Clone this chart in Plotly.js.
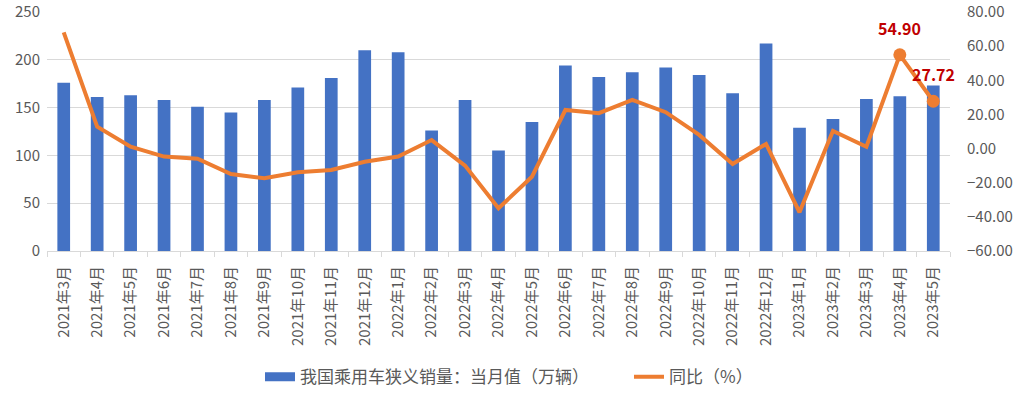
<!DOCTYPE html>
<html>
<head>
<meta charset="utf-8">
<script src="https://cdn.plot.ly/plotly-3.0.1.min.js"></script>
<style>html,body{margin:0;padding:0;background:#fff;}#chart{width:1018px;height:393px;}</style>
</head>
<body>
<div id="chart"></div>
<script>
const months = ["2021年3月","2021年4月","2021年5月","2021年6月","2021年7月","2021年8月","2021年9月","2021年10月","2021年11月","2021年12月",
"2022年1月","2022年2月","2022年3月","2022年4月","2022年5月","2022年6月","2022年7月","2022年8月","2022年9月","2022年10月","2022年11月","2022年12月",
"2023年1月","2023年2月","2023年3月","2023年4月","2023年5月"];
const sales = [176,161,163,158,151,145,158,171,181,210,208,126,158,105,135,194,182,187,192,184,165,217,129,138,159,162,173];
const yoy = [68.1,12.8,1.1,-4.7,-5.9,-14.9,-17.4,-13.9,-12.5,-7.7,-4.7,5.0,-10.0,-35.0,-16.5,22.6,20.7,28.5,21.3,8.0,-9.0,2.7,-37.3,10.3,1.1,54.90,27.72];
const labelled = ["2023年4月","2023年5月"];
const labelledVals = [54.90, 27.72];
const labelledText = ["54.90","27.72"];
const barName = "我国乘用车狭义销量：当月值（万辆）";
const lineName = "同比（%）";

const font = "'Noto Sans CJK SC', 'Noto Sans', sans-serif";
const grey = "#595959";

const traces = [
  {type:"bar", x:months, y:sales, name:barName, showlegend:false,
   marker:{color:"#4472C4"}, yaxis:"y"},
  {type:"scatter", mode:"lines", x:[months[0]], y:[null], name:barName,
   line:{color:"#4472C4", width:9}, yaxis:"y", hoverinfo:"skip"},
  {type:"scatter", mode:"lines", x:months, y:yoy, name:lineName,
   line:{color:"#ED7D31", width:4}, yaxis:"y2"},
  {type:"scatter", mode:"markers", x:labelled, y:labelledVals, showlegend:false,
   marker:{color:"#ED7D31", size:13}, yaxis:"y2", hoverinfo:"skip"}
];

const layout = {
  width:1018, height:393,
  margin:{l:47, r:68, t:12, b:142},
  paper_bgcolor:"#fff", plot_bgcolor:"#fff",
  font:{family:font, color:grey, size:13},
  bargap:0.62,
  showlegend:true,
  legend:{orientation:"h", xref:"container", yref:"container", x:0.2554, xanchor:"left", y:0.04, yanchor:"middle",
          font:{size:17, color:grey, family:font}, traceorder:"normal", entrywidth:324, entrywidthmode:"pixels"},
  xaxis:{type:"category", range:[-0.5, months.length-0.5], tickangle:-90, tickson:"boundaries", ticks:"outside", ticklen:5,
         tickcolor:"#D9D9D9", showline:true, linecolor:"#D9D9D9", linewidth:1, automargin:false,
         showgrid:false, tickfont:{size:15, color:grey, family:font}, ticklabelstandoff:8, fixedrange:true},
  yaxis:{range:[0,250], dtick:50, showgrid:true, gridcolor:"#D9D9D9", zeroline:false, automargin:false,
         ticks:"", tickfont:{size:15, color:grey, family:font}, ticklabelstandoff:6},
  yaxis2:{range:[-60,80], dtick:20, overlaying:"y", side:"right", showgrid:false, zeroline:false, automargin:false,
          tickformat:".2f", tickfont:{size:15, color:grey, family:font}, ticklabelstandoff:16},
  annotations: labelled.map((m,i)=>({x:m, y:labelledVals[i], xref:"x", yref:"y2", text:labelledText[i],
      showarrow:false, yshift:27, font:{size:16, color:"#C00000", family:font, weight:"bold"}}))
};

Plotly.newPlot("chart", traces, layout, {displayModeBar:false, staticPlot:true});
</script>
</body>
</html>
